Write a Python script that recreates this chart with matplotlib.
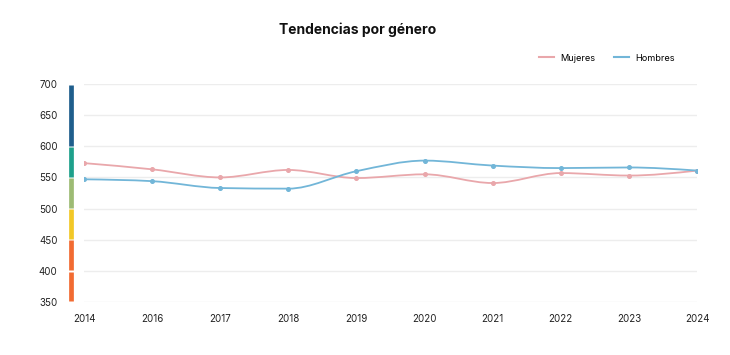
import matplotlib
matplotlib.use("Agg")
import matplotlib.pyplot as plt
import numpy as np
from matplotlib.path import Path
from matplotlib.patches import PathPatch
import matplotlib.transforms as mtransforms

plt.rcParams.update({
    "font.family": ["Inter", "DejaVu Sans"],
    "figure.facecolor": "white",
    "axes.facecolor": "white",
})

years = ["2014", "2016", "2017", "2018", "2019", "2020", "2021", "2022", "2023", "2024"]
mujeres = [573, 563, 550, 562, 549, 555, 541, 557, 553, 561]
hombres = [547, 544, 533, 532, 560, 577, 569, 565, 566, 561]

# coloured bands on the left of the value axis
band_lo = [350, 400, 450, 500, 550, 600]
band_hi = [400, 450, 500, 550, 600, 700]
band_colors = ["#f26b32", "#f26b32", "#f2c827", "#9dbb74", "#1ea08b", "#1f5e8c"]

PINK = "#e9a7ab"
BLUE = "#72b6d8"


def monotone_path(x, y):
    """Monotone-x cubic curve through the points (like d3.curveMonotoneX)."""
    x = np.asarray(x, float)
    y = np.asarray(y, float)
    n = len(x)
    h = np.diff(x)
    s = np.diff(y) / h
    t = np.zeros(n)
    for i in range(1, n - 1):
        p = (s[i - 1] * h[i] + s[i] * h[i - 1]) / (h[i - 1] + h[i])
        t[i] = (np.sign(s[i - 1]) + np.sign(s[i])) * min(abs(s[i - 1]), abs(s[i]), 0.5 * abs(p))
    t[0] = (3 * s[0] - t[1]) / 2
    t[-1] = (3 * s[-1] - t[-2]) / 2
    verts = [(x[0], y[0])]
    codes = [Path.MOVETO]
    for i in range(n - 1):
        dx = h[i] / 3
        verts += [(x[i] + dx, y[i] + dx * t[i]),
                  (x[i + 1] - dx, y[i + 1] - dx * t[i + 1]),
                  (x[i + 1], y[i + 1])]
        codes += [Path.CURVE4] * 3
    return Path(verts, codes)


fig = plt.figure(figsize=(7.3, 3.55), dpi=100)
ax = fig.add_axes([84 / 730, 1 - 302 / 355, 613 / 730, 218 / 355])

xs = np.arange(len(years))
for vals, color, label in [(mujeres, PINK, "Mujeres"), (hombres, BLUE, "Hombres")]:
    ax.add_patch(PathPatch(monotone_path(xs, vals), fill=False, edgecolor=color,
                           lw=1.3, zorder=3))
    ax.plot(xs, vals, "o", color=color, ms=2.6, zorder=4)
    ax.plot([], [], color=color, lw=1.5, label=label)

ax.set_xlim(0, len(years) - 1)
ax.set_ylim(350, 700)
ax.set_yticks(range(350, 701, 50))
ax.set_xticks(xs)
ax.set_xticklabels(years)
ax.grid(axis="y", color="#ededed", lw=1)
ax.set_axisbelow(True)
for sp in ax.spines.values():
    sp.set_visible(False)
ax.tick_params(axis="both", length=0, labelsize=7, colors="#222222")
ax.tick_params(axis="y", pad=19)
ax.tick_params(axis="x", pad=9)

trans = mtransforms.blended_transform_factory(ax.transAxes, ax.transData)
for lo, hi, c in zip(band_lo, band_hi, band_colors):
    ax.plot([-0.0215, -0.0215], [lo + 1.2, hi - 1.2], color=c, lw=3.4,
            solid_capstyle="butt", transform=trans, clip_on=False)

fig.text(0.49, 0.915, "Tendencias por género", ha="center", va="center",
         fontsize=10, fontweight="bold", color="#111111")

ax.legend(loc="lower right", bbox_to_anchor=(0.977, 1.06), ncol=2, frameon=False,
          fontsize=6.6, handlelength=1.6, columnspacing=2.0, handletextpad=0.7)

fig.savefig("out.png", dpi=100)
